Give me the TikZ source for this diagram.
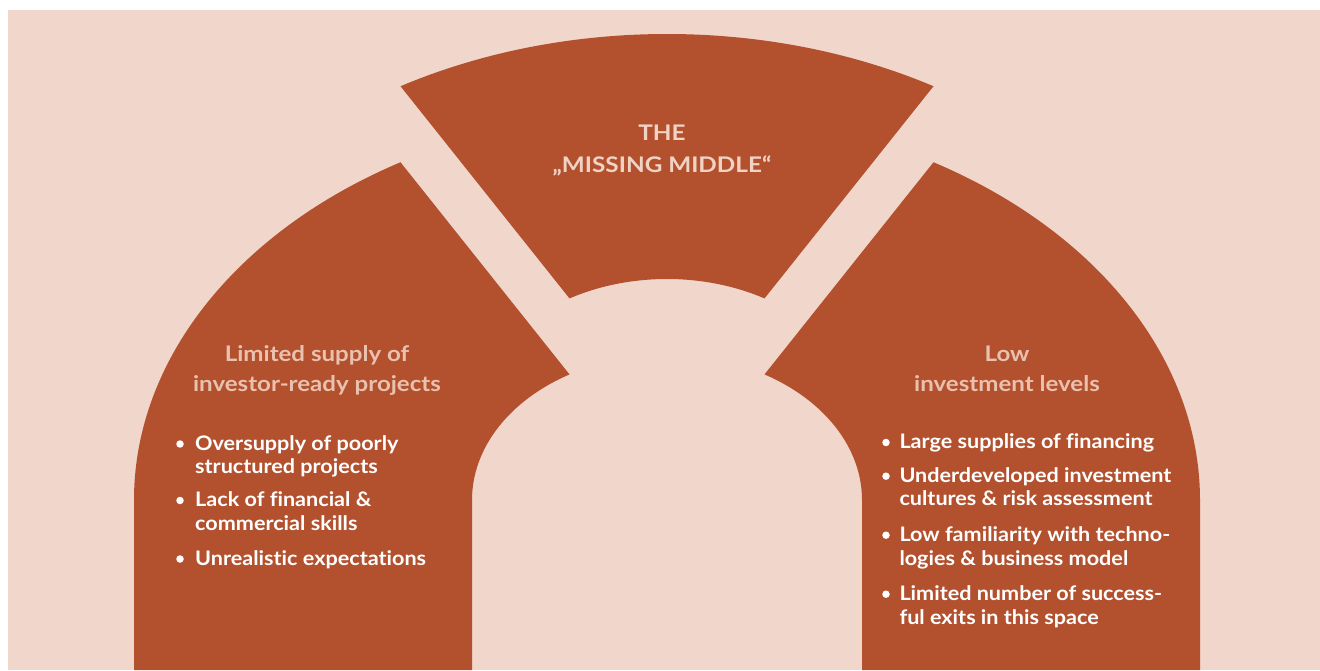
\documentclass[tikz,border=0pt]{standalone}
\usepackage{fontspec}
\setmainfont{Lato}[Ligatures=NoCommon]
\newfontfamily\titlefont{Lato}[FakeStretch=1.13,Ligatures=NoCommon]
\newfontfamily\headfont{Lato}[FakeStretch=1.12,Ligatures=NoCommon]
\newfontfamily\itemfont{Lato}[FakeStretch=1.08,Ligatures=NoCommon]
\usetikzlibrary{calc}
\definecolor{archred}{HTML}{B3512F}
\definecolor{backpink}{HTML}{F1D6CB}
\definecolor{headpink}{HTML}{E9C1AE}
\definecolor{titlepink}{HTML}{F0D3C5}
\begin{document}
\begin{tikzpicture}[x=1pt,y=1pt,
		archpart/.style={fill=archred},
		titletext/.style={text=titlepink,font=\titlefont\fontsize{21.5}{26}\selectfont\bfseries,anchor=base,inner sep=0},
		headtext/.style={text=headpink,font=\headfont\fontsize{21.5}{26}\selectfont\bfseries,anchor=base,inner sep=0},
		itemtext/.style={text=white,font=\itemfont\fontsize{20}{24}\selectfont\bfseries,anchor=base west,inner sep=0},
		bulletdot/.style={circle,fill=white,inner sep=0,minimum size=7.5pt}]
			\useasboundingbox (0,0) rectangle (1320,670);
			\fill[backpink] (8,0) rectangle (1320,660);
			\coordinate (c) at (667,170);
			\coordinate (m) at (667,246);
			
			\fill[archpart] (134,0) -- (134,170) arc[start angle=180,end angle=120,x radius=533,y radius=390] -- ($(c)+(120:195 and 145)$) arc[start angle=120,end angle=180,x radius=195,y radius=145] -- (472,0) -- cycle;
			\fill[archpart] ($(m)+(60:533 and 390)$) arc[start angle=60,end angle=120,x radius=533,y radius=390] -- ($(m)+(120:195 and 145)$) arc[start angle=120,end angle=60,x radius=195,y radius=145] -- cycle;
			\fill[archpart] (1200,0) -- (1200,170) arc[start angle=0,end angle=60,x radius=533,y radius=390] -- ($(c)+(60:195 and 145)$) arc[start angle=60,end angle=0,x radius=195,y radius=145] -- (862,0) -- cycle;
			
			\node[titletext] (the) at (662,529.3) {THE};
			\node[titletext] (missing) at (662,497.7) {„MISSING MIDDLE“};
			\node[headtext] (limited) at (317,308) {Limited supply of};
			\node[headtext] (investor) at (317,278.3) {investor-ready projects};
			\node[headtext] (low) at (1007,308) {Low};
			\node[headtext] (levels) at (1007,278.3) {investment levels};
			
			\node[bulletdot] (ld1) at (180,226) {};
			\node[itemtext] (oversupply) at (195,219.3) {Oversupply of poorly};
			\node[itemtext] (structured) at (195,196.7) {structured projects};
			\node[bulletdot] (ld2) at (180,169.5) {};
			\node[itemtext] (lack) at (195,163.3) {Lack of financial \&};
			\node[itemtext] (commercial) at (195,140) {commercial skills};
			\node[bulletdot] (ld3) at (180,111) {};
			\node[itemtext] (unrealistic) at (195,104.7) {Unrealistic expectations};
			
			\node[bulletdot] (rd1) at (886,227.5) {};
			\node[itemtext] (large) at (899.3,221) {Large supplies of financing};
			\node[bulletdot] (rd2) at (886,193.8) {};
			\node[itemtext] (underdeveloped) at (899.3,187.3) {Underdeveloped investment};
			\node[itemtext] (cultures) at (899.3,165) {cultures \& risk assessment};
			\node[bulletdot] (rd3) at (886,134.8) {};
			\node[itemtext] (familiarity) at (899.3,128.3) {Low familiarity with techno-};
			\node[itemtext] (logies) at (899.3,105) {logies \& business model};
			\node[bulletdot] (rd4) at (886,75.8) {};
			\node[itemtext] (number) at (899.3,69.3) {Limited number of success-};
			\node[itemtext] (exits) at (899.3,45.7) {ful exits in this space};
		\end{tikzpicture}
\end{document}
